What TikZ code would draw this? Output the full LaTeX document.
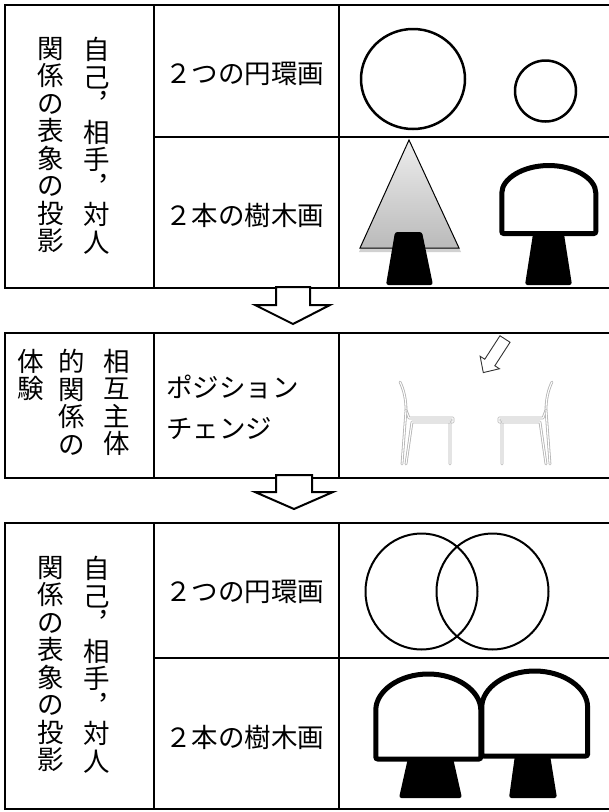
\documentclass[tikz,border=0pt]{standalone}
\usepackage{fontspec}
\newfontfamily\jp{Noto Sans CJK JP}
\begin{document}
\begin{tikzpicture}[x=1pt,y=-1pt,
  rule/.style={line width=2.2pt},
  label/.style={font=\jp\fontsize{26.5}{27.5}\selectfont, inner sep=0pt},
  vtext/.style={label, align=center, anchor=north},
  blockarrow/.style={draw=black, fill=white, line width=2pt, line join=miter},
  trunk/.style={fill=black, rounded corners=2.5pt},
  crown/.style={draw=black, fill=white, line width=5pt, rounded corners=2pt},
  ring/.style={draw=black, line width=2.5pt},
  chair/.style={draw=gray!60, double=white, double distance=1.1pt, line width=0.8pt, line cap=round, line join=round},
  hint/.style={draw=gray!40!black, fill=white, line width=0.9pt, line join=miter},
]
\useasboundingbox (0,0) rectangle (609,812);

% ---------- first block: projections ----------
\draw[rule] (615,5) -- (5,5) -- (5,288) -- (615,288);
\draw[rule] (154,5) -- (154,288);
\draw[rule] (339,5) -- (339,288);
\draw[rule] (154,137) -- (615,137);

\node[vtext] (a1) at (97,37) {自\\己\\︐\\相\\手\\︐\\対\\人};
\node[vtext] (a2) at (51,37) {関\\係\\の\\表\\象\\の\\投\\影};
\node[label, anchor=west] (a3) at (165,74) {２つの円環画};
\node[label, anchor=west] (a4) at (165,215) {２本の樹木画};

% two separate rings
\draw[ring] (413,79) ellipse [x radius=52, y radius=50];
\draw[ring] (545.5,91) circle [radius=30.5];

% pointed tree with shadow
\fill[black, opacity=0.18] (409,143) -- (359,252) -- (461,252) -- cycle;
\shade[top color=black!7, bottom color=black!27] (409,140) -- (360,248) -- (459,248) -- cycle;
\draw[line width=1pt, line join=miter] (409,140) -- (360,248) -- (459,248) -- cycle;
\fill[trunk] (395,232) -- (422,232) -- (433,285) -- (386,285) -- cycle;

% round tree
\fill[trunk] (533,234) -- (564,234) -- (572,285) -- (525,285) -- cycle;
\draw[crown] (501.8,233.5) -- (501.8,195) arc[start angle=180, end angle=360, x radius=47, y radius=29.5] -- (595.8,233.5) -- cycle;

% ---------- arrow down ----------
\draw[blockarrow] (276,287) -- (310,287) -- (310,305) -- (330,305) -- (293,324) -- (255,305) -- (276,305) -- cycle;

% ---------- second block: position change ----------
\draw[rule] (615,333) -- (5,333) -- (5,478) -- (615,478);
\draw[rule] (154,333) -- (154,478);
\draw[rule] (339,333) -- (339,478);

\node[vtext] (b1) at (117,349) {相\\互\\主\\体};
\node[vtext] (b2) at (72,349) {的\\関\\係\\の};
\node[vtext] (b3) at (31,349) {体\\験};
\node[label, anchor=west, align=left, font=\jp\fontsize{26.5}{41}\selectfont] (b4) at (166,407.5) {ポジション\\チェンジ};

% small hollow arrow pointing at the chairs
\begin{scope}[shift={(505,339)}, rotate=-122.9]
  \draw[hint] (0,-6) -- (28,-6) -- (28,-11.5) -- (40,0) -- (28,11.5) -- (28,6) -- (0,6) -- cycle;
\end{scope}

% chairs facing each other
\begin{scope}
  \draw[chair] (400,382) .. controls (404,390) and (406,400) .. (406,410) -- (409,418) -- (453,418) -- (453,422) -- (450,422) -- (450,464);
  \draw[chair] (450,422) -- (412,422) -- (406,464);
  \draw[chair] (406,410) -- (402,464);
\end{scope}
\begin{scope}[xshift=952pt, xscale=-1]
  \draw[chair] (400,382) .. controls (404,390) and (406,400) .. (406,410) -- (409,418) -- (453,418) -- (453,422) -- (450,422) -- (450,464);
  \draw[chair] (450,422) -- (412,422) -- (406,464);
  \draw[chair] (406,410) -- (402,464);
\end{scope}

% ---------- arrow down ----------
\draw[blockarrow] (276,475) -- (312,475) -- (312,492) -- (333,492) -- (294,509) -- (255,492) -- (276,492) -- cycle;

% ---------- third block: projections after ----------
\draw[rule] (615,523) -- (5,523) -- (5,809) -- (615,809);
\draw[rule] (154,523) -- (154,809);
\draw[rule] (339,523) -- (339,809);
\draw[rule] (154,658) -- (615,658);

\node[vtext] (c1) at (97,556) {自\\己\\︐\\相\\手\\︐\\対\\人};
\node[vtext] (c2) at (51,556) {関\\係\\の\\表\\象\\の\\投\\影};
\node[label, anchor=west] (c3) at (165,592) {２つの円環画};
\node[label, anchor=west] (c4) at (165,737) {２本の樹木画};

% overlapping rings
\draw[line width=2pt] (421.5,591.5) ellipse [x radius=56, y radius=58];
\draw[line width=2pt] (492.5,591.5) ellipse [x radius=56, y radius=58];

% two round trees side by side
\fill[trunk] (408,758) -- (453,758) -- (462,798) -- (399,798) -- cycle;
\fill[trunk] (515,755) -- (550,755) -- (557,798) -- (509,798) -- cycle;
\draw[crown] (481.8,756) -- (481.8,709) arc[start angle=180, end angle=360, x radius=52.9, y radius=38] -- (587.6,756) -- cycle;
\draw[crown] (375.8,759) -- (375.8,712) arc[start angle=180, end angle=360, x radius=52.5, y radius=38] -- (480.8,759) -- cycle;
\end{tikzpicture}
\end{document}
